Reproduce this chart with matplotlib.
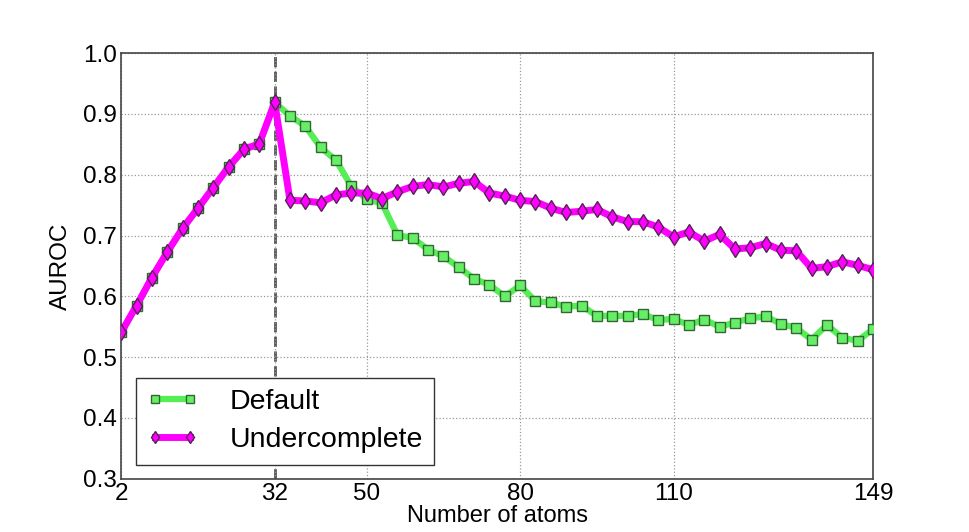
import matplotlib
matplotlib.use('Agg')
import matplotlib.pyplot as plt

# number of atoms, sampled every 3
n_atoms = list(range(2, 150, 3))

default_auroc = [
    0.541, 0.585, 0.631, 0.673, 0.712, 0.745, 0.779, 0.813, 0.842, 0.851, 0.919,
    0.897, 0.880, 0.845, 0.824, 0.781, 0.760, 0.753, 0.701, 0.696, 0.677,
    0.666, 0.648, 0.629, 0.619, 0.600, 0.618, 0.592, 0.590, 0.583, 0.585,
    0.568, 0.568, 0.568, 0.571, 0.561, 0.563, 0.553, 0.562, 0.550, 0.557,
    0.564, 0.567, 0.555, 0.548, 0.529, 0.553, 0.532, 0.527, 0.546,
]

undercomplete_auroc = [
    0.541, 0.585, 0.631, 0.673, 0.712, 0.745, 0.779, 0.813, 0.842, 0.851, 0.919,
    0.758, 0.757, 0.754, 0.767, 0.770, 0.770, 0.761, 0.772, 0.781, 0.784,
    0.780, 0.786, 0.789, 0.770, 0.765, 0.758, 0.756, 0.745, 0.738, 0.740,
    0.743, 0.731, 0.723, 0.723, 0.714, 0.698, 0.706, 0.691, 0.702, 0.678,
    0.680, 0.687, 0.676, 0.675, 0.646, 0.649, 0.657, 0.651, 0.644,
]

x_ticks = [2, 32, 50, 80, 110, 149]
y_ticks = [0.3, 0.4, 0.5, 0.6, 0.7, 0.8, 0.9, 1.0]
split_at = 32

plt.rcParams['font.family'] = ['Liberation Sans', 'DejaVu Sans']

fig = plt.figure(figsize=(9.7, 5.32), dpi=100)
ax = fig.add_axes([0.125, 0.1, 0.775, 0.8])

ax.axvline(split_at, color='#555555', linestyle='--', linewidth=2, zorder=1)

ax.plot(n_atoms, default_auroc, color='#55ee55', linewidth=4.5,
        marker='s', markersize=6.5, markerfacecolor='#66ee66',
        markeredgecolor='#336633', markeredgewidth=1.0, label='Default', zorder=3)
ax.plot(n_atoms, undercomplete_auroc, color='#ff00ff', linewidth=5,
        marker='d', markersize=8, markerfacecolor='#ff00ff',
        markeredgecolor='#552255', markeredgewidth=1.0, label='Undercomplete', zorder=4)

ax.set_xlim(2, 149)
ax.set_ylim(0.3, 1.0)
ax.set_xticks(x_ticks)
ax.set_xticklabels([str(t) for t in x_ticks])
ax.set_yticks(y_ticks)
ax.set_yticklabels(['%.1f' % t for t in y_ticks])
ax.tick_params(labelsize=17.5, length=0, pad=3)
ax.grid(True, linestyle=':', color='#999999', linewidth=0.9)
for s in ax.spines.values():
    s.set_color('#444444')
    s.set_linewidth(1.2)

ax.set_xlabel('Number of atoms', fontsize=17, labelpad=0)
ax.set_ylabel('AUROC', fontsize=17.5, labelpad=8)

leg = ax.legend(loc='lower left', bbox_to_anchor=(0.019, 0.033), borderaxespad=0,
                fontsize=20.5, numpoints=2, fancybox=False, framealpha=1,
                handlelength=1.8, borderpad=0.4, labelspacing=0.42,
                handletextpad=1.1, markerscale=0.8)
leg.get_frame().set_edgecolor('#333333')
leg.get_frame().set_linewidth(1.0)

plt.savefig('out.png', dpi=100)
plt.close()
